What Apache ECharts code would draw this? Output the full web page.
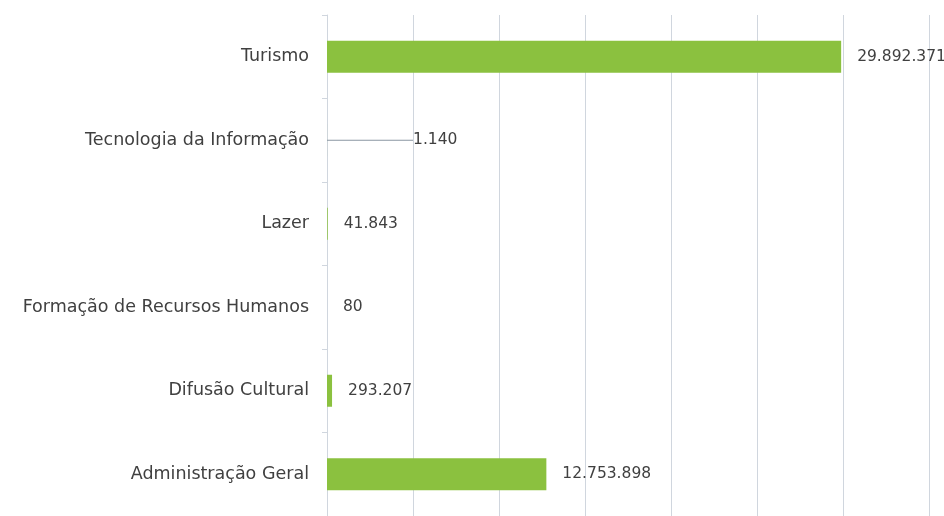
<!DOCTYPE html>
<html>
<head>
<meta charset="utf-8">
<script src="https://cdn.jsdelivr.net/npm/echarts@6/dist/echarts.min.js"></script>
<style>
    html, body { margin: 0; padding: 0; background: #ffffff; }
    #chart { width: 944px; height: 516px; }
</style>
</head>
<body>
<div id="chart"></div>
<script>
// categories top to bottom
var categories = ['Turismo', 'Tecnologia da Informação', 'Lazer', 'Formação de Recursos Humanos', 'Difusão Cultural', 'Administração Geral'];
var values = [29892371, 1140, 41843, 80, 293207, 12753898];

function fmt(n) {
    return String(n).replace(/\B(?=(\d{3})+(?!\d))/g, '.');
}

var textFont = '"DejaVu Sans", Verdana, sans-serif';

// only the "Tecnologia" label is pushed out with a leader line
var barData = values.map(function (v, i) {
    if (i === 1) {
        return { value: v, labelLine: { show: true, lineStyle: { color: '#8a96a3', width: 1 } } };
    }
    return v;
});

var chart = echarts.init(document.getElementById('chart'));
chart.setOption({
    animation: false,
    grid: { left: 327, right: 15, top: 15, bottom: -4 },
    xAxis: {
        type: 'value',
        min: 0,
        max: 35000000,
        interval: 5000000,
        axisLabel: { show: false },
        axisLine: { show: false },
        axisTick: { show: false },
        splitLine: { lineStyle: { color: '#d0d6de', width: 1 } }
    },
    yAxis: {
        type: 'category',
        inverse: true,
        data: categories,
        axisLine: { lineStyle: { color: '#d0d6de', width: 1 } },
        axisTick: { show: true, length: 5, lineStyle: { color: '#d0d6de' } },
        axisLabel: {
            color: '#404040',
            fontFamily: textFont,
            fontSize: 17.5,
            margin: 18
        }
    },
    series: [{
        type: 'bar',
        data: barData,
        barWidth: 32,
        itemStyle: { color: '#8bc13f' },
        label: {
            show: true,
            position: 'right',
            distance: 16,
            color: '#404040',
            fontFamily: textFont,
            fontSize: 15.5,
            formatter: function (p) { return fmt(p.value); }
        },
        labelLine: { show: false },
        labelLayout: function (p) {
            return p.dataIndex === 1 ? { dx: 70 } : {};
        }
    }]
});
</script>
</body>
</html>
